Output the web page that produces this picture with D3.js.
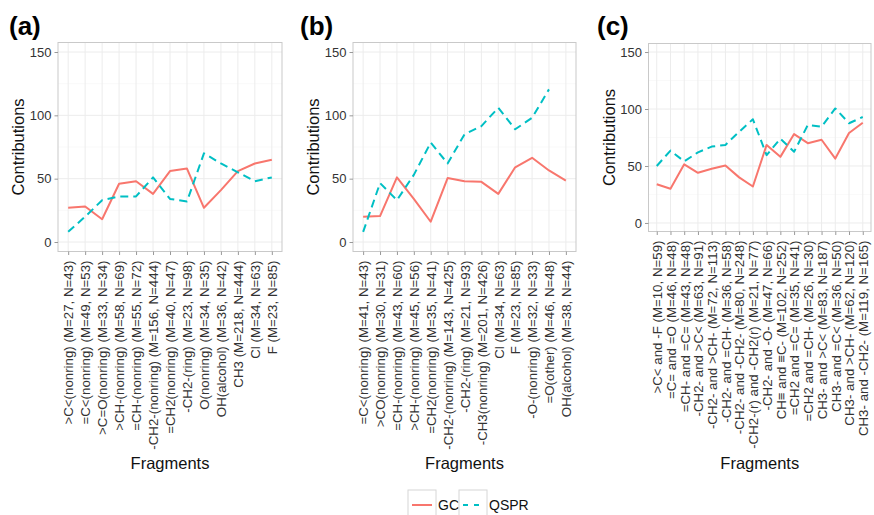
<!DOCTYPE html>
<html>
<head>
<meta charset="utf-8">
<script src="https://cdn.jsdelivr.net/npm/d3@7"></script>
<style>
  body { margin: 0; background: #fff; }
  svg { display: block; }
  text { font-family: "Liberation Sans", Arial, Helvetica, sans-serif; }
</style>
</head>
<body>
<svg id="chart" width="874" height="515"></svg>
<script>
// ---- data ----
const panelTags = ["(a)", "(b)", "(c)"];
const yTicks = [0, 50, 100, 150];
const yMinor = [25, 75, 125];
const seriesNames = ["GC", "QSPR"];

const fragmentsA = [
  ">C<(nonring) (M=27, N=43)", "=C<(nonring) (M=49, N=53)", ">C=O(nonring) (M=33, N=34)",
  ">CH-(nonring) (M=58, N=69)", "=CH-(nonring) (M=55, N=72)", "-CH2-(nonring) (M=156, N=444)",
  "=CH2(nonring) (M=40, N=47)", "-CH2-(ring) (M=23, N=98)", "O(nonring) (M=34, N=35)",
  "OH(alcohol) (M=36, N=42)", "CH3 (M=218, N=444)", "Cl (M=34, N=63)", "F (M=23, N=85)"
];
const gcA   = [27, 28, 18, 46, 48, 38, 56, 58, 27, 41, 56, 62, 65];
const qsprA = [8, 20, 33, 36, 36, 51, 34, 32, 70, 62, 55, 48, 51];

const fragmentsB = [
  "=C<(nonring) (M=41, N=43)", ">CO(nonring) (M=30, N=31)", "=CH-(nonring) (M=43, N=60)",
  ">CH-(nonring) (M=45, N=56)", "=CH2(nonring) (M=35, N=41)", "-CH2-(nonring) (M=143, N=425)",
  "-CH2-(ring) (M=21, N=93)", "-CH3(nonring) (M=201, N=426)", "Cl (M=34, N=63)",
  "F (M=23, N=85)", "-O-(nonring) (M=32, N=33)", "=O(other) (M=46, N=48)", "OH(alcohol) (M=38, N=44)"
];
const gcB   = [20, 20.5, 51, 34, 16, 50.5, 48, 47.5, 38, 59, 66.5, 56.5, 48.5];
const qsprB = [8, 46.5, 33, 53, 78.5, 62, 85, 91.5, 106, 89, 98, 120.5, null];

const fragmentsC = [
  ">C< and -F (M=10, N=59)", "=C= and =O (M=46, N=48)", "=CH- and =C= (M=43, N=48)",
  "-CH2- and >C< (M=63, N=91)", "-CH2- and >CH- (M=72, N=113)", "-CH2- and =CH- (M=36, N=58)",
  "-CH2- and -CH2- (M=80, N=248)", "-CH2-(r) and -CH2(r) (M=21, N=77)", "-CH2- and -O- (M=47, N=66)",
  "CH\u2261 and \u2261C- (M=102, N=252)", "=CH2 and =C= (M=35, N=41)", "=CH2 and =CH- (M=26, N=30)",
  "CH3- and >C< (M=83, N=187)", "CH3- and =C< (M=36, N=50)", "CH3- and >CH- (M=62, N=120)",
  "CH3- and -CH2- (M=119, N=165)"
];
const gcC   = [34, 30, 51.5, 44, 47.5, 50.5, 40, 32, 68.5, 58, 78, 70, 73, 56.5, 79, 88];
const qsprC = [50, 63.5, 54, 62, 67, 68.5, 80, 91, 59.5, 74, 62.5, 86, 84.5, 100.5, 87.5, 93];

// ---- layout ----
const colors = { GC: "#F8766D", QSPR: "#00BFC4" };
const panels = [
  { tag: panelTags[0], cats: fragmentsA, gc: gcA, qspr: qsprA, x0: 58,  x1: 282, y0: 42.5, y1: 251.5, tagX: 9 },
  { tag: panelTags[1], cats: fragmentsB, gc: gcB, qspr: qsprB, x0: 353, x1: 576, y0: 42.5, y1: 251.5, tagX: 300 },
  { tag: panelTags[2], cats: fragmentsC, gc: gcC, qspr: qsprC, x0: 648.5, x1: 871, y0: 43.5, y1: 231.5, tagX: 597 }
];

const svg = d3.select("#chart");

panels.forEach(p => {
  const g = svg.append("g");
  const x = d3.scalePoint().domain(p.cats).range([p.x0, p.x1]).padding(0.6);
  const y = d3.scaleLinear().domain([-7.5, 157.5]).range([p.y1, p.y0]);

  // panel background + grid
  g.append("rect").attr("x", p.x0).attr("y", p.y0)
    .attr("width", p.x1 - p.x0).attr("height", p.y1 - p.y0).attr("fill", "#fff");
  g.selectAll(".minor").data(yMinor).join("line")
    .attr("x1", p.x0).attr("x2", p.x1).attr("y1", d => y(d)).attr("y2", d => y(d))
    .attr("stroke", "#f5f5f5").attr("stroke-width", 0.6);
  g.selectAll(".majorY").data(yTicks).join("line")
    .attr("x1", p.x0).attr("x2", p.x1).attr("y1", d => y(d)).attr("y2", d => y(d))
    .attr("stroke", "#ececec").attr("stroke-width", 1);
  g.selectAll(".majorX").data(p.cats).join("line")
    .attr("x1", d => x(d)).attr("x2", d => x(d)).attr("y1", p.y0).attr("y2", p.y1)
    .attr("stroke", "#ececec").attr("stroke-width", 1);

  // series lines
  const mkLine = vals => d3.line()
    .defined(d => d.v != null)
    .x(d => x(d.c)).y(d => y(d.v))(p.cats.map((c, i) => ({ c, v: vals[i] })));
  g.append("path").attr("d", mkLine(p.gc)).attr("fill", "none")
    .attr("stroke", colors.GC).attr("stroke-width", 2).attr("stroke-linejoin", "round");
  g.append("path").attr("d", mkLine(p.qspr)).attr("fill", "none")
    .attr("stroke", colors.QSPR).attr("stroke-width", 2)
    .attr("stroke-dasharray", "8,5").attr("stroke-linejoin", "round");

  // border
  g.append("rect").attr("x", p.x0).attr("y", p.y0)
    .attr("width", p.x1 - p.x0).attr("height", p.y1 - p.y0)
    .attr("fill", "none").attr("stroke", "#c9c9c9").attr("stroke-width", 1);

  // y axis
  const yAxis = d3.axisLeft(y).tickValues(yTicks).tickSize(3.5).tickPadding(3);
  const ya = g.append("g").attr("transform", `translate(${p.x0},0)`).call(yAxis);
  ya.select(".domain").remove();
  ya.selectAll(".tick line").attr("stroke", "#999");
  ya.selectAll(".tick text").attr("fill", "#333").attr("font-size", 13)
    .style("font-family", "\"Liberation Sans\", Arial, sans-serif");

  // x axis
  const xAxis = d3.axisBottom(x).tickSize(3.5).tickPadding(0);
  const xa = g.append("g").attr("transform", `translate(0,${p.y1})`).call(xAxis);
  xa.select(".domain").remove();
  xa.selectAll(".tick line").attr("stroke", "#999");
  xa.selectAll(".tick text")
    .attr("fill", "#333").attr("font-size", 13.3)
    .style("font-family", "\"Liberation Sans\", Arial, sans-serif")
    .attr("text-anchor", "end")
    .attr("transform", "translate(0,9) rotate(-90)")
    .attr("x", 0).attr("y", 0).attr("dy", "0.36em");

  // axis titles
  g.append("text").attr("transform", `translate(${p.x0 - 34},${(p.y0 + p.y1) / 2}) rotate(-90)`)
    .attr("text-anchor", "middle").attr("font-size", 16.5).attr("fill", "#111").text("Contributions");
  g.append("text").attr("x", (p.x0 + p.x1) / 2).attr("y", 469)
    .attr("text-anchor", "middle").attr("font-size", 16.5).attr("fill", "#111").text("Fragments");

  // panel tag
  g.append("text").attr("x", p.tagX).attr("y", 35).attr("font-size", 26)
    .attr("font-weight", "bold").attr("fill", "#000").text(p.tag);
});

// ---- legend ----
const legend = svg.append("g");
const keyX = [408, 459];
seriesNames.forEach((name, i) => {
  const kx = keyX[i];
  legend.append("rect").attr("x", kx).attr("y", 490).attr("width", 28).attr("height", 30)
    .attr("fill", "#fff").attr("stroke", "#d6d6d6").attr("stroke-width", 1);
  legend.append("line").attr("x1", kx + 4).attr("x2", kx + 24).attr("y1", 505).attr("y2", 505)
    .attr("stroke", colors[name]).attr("stroke-width", 2)
    .attr("stroke-dasharray", name === "QSPR" ? "5,6" : null);
  legend.append("text").attr("x", kx + 30).attr("y", 510).attr("font-size", 14)
    .attr("fill", "#111").text(name);
});
</script>
</body>
</html>
